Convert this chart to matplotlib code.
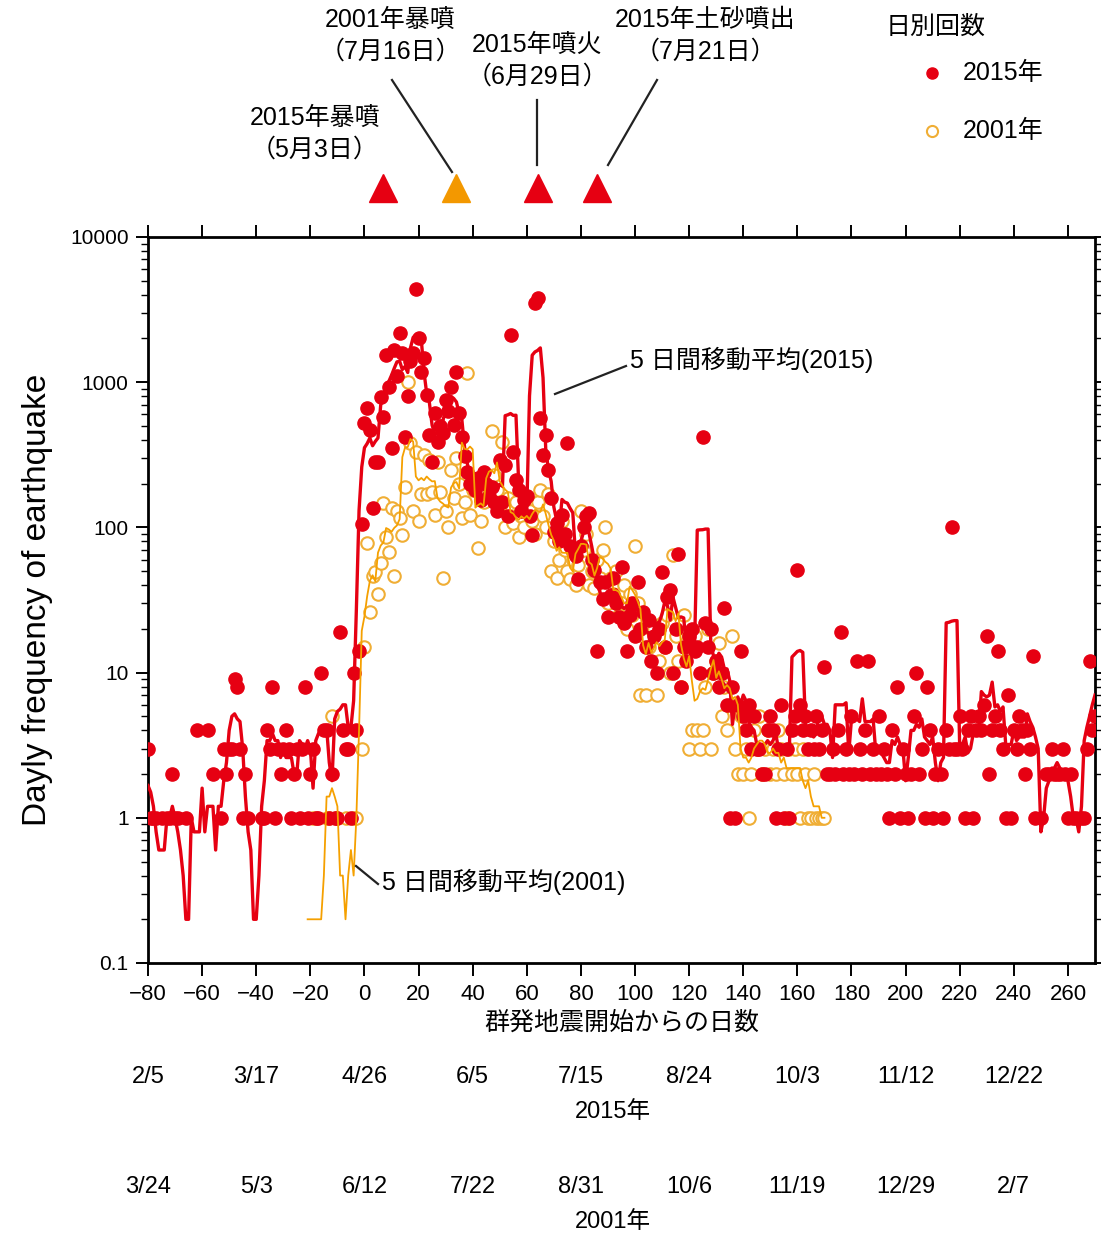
# 群発地震の日別回数と5日間移動平均(2015年と2001年の比較)

import matplotlib
matplotlib.use("Agg")
import matplotlib.pyplot as plt
import matplotlib.transforms as mtransforms
from matplotlib.lines import Line2D
from matplotlib.ticker import FixedLocator, LogLocator, NullFormatter
import numpy as np
import pandas as pd

plt.rcParams['font.family'] = ['Liberation Sans', 'Noto Sans CJK JP', 'DejaVu Sans']

W, H = 1101, 1238

# --- データ (群発地震開始からの日数ごとの回数) ---
days_2015 = np.arange(-80, 271)
count_2015 = [
    3, 1, 1, 1, 0, 1, 0, 1, 1, 2,            # -80..-71
    1, 1, 0, 0, 1, 0, 0, 0, 4, 0,            # -70..-61
    0, 0, 4, 0, 2, 0, 0, 1, 3, 2,            # -60..-51
    3, 3, 9, 8, 3, 1, 2, 1, 0, 0,            # -50..-41
    0, 0, 1, 1, 4, 3, 8, 1, 3, 2,            # -40..-31
    3, 4, 3, 1, 2, 3, 1, 3, 8, 1,            # -30..-21
    2, 3, 1, 1, 10, 4, 4, 1, 2, 1,           # -20..-11
    1, 19, 4, 3, 3, 1, 10, 4, 14, 105,       # -10..-1
    520, 660, 470, 135, 280, 280, 790, 580, 1540, 930,        # 0..9
    350, 1660, 1100, 2190, 1600, 420, 800, 1410, 1600, 4370,  # 10..19
    2000, 1180, 1470, 820, 430, 280, 610, 390, 500, 445,      # 20..29
    750, 630, 930, 510, 1180, 610, 420, 310, 240, 200,        # 30..39
    210, 180, 220, 155, 240, 200, 165, 190, 150, 130,         # 40..49
    290, 150, 270, 120, 2110, 330, 212, 180, 130, 155,        # 50..59
    165, 120, 89, 3500, 3800, 570, 315, 430, 250, 160,        # 60..69
    93, 107, 80, 122, 90, 380, 75, 68, 64, 44,                # 70..79
    75, 100, 120, 125, 60, 51, 14, 42, 32, 42,                # 80..89
    24, 34, 45, 30, 24, 53, 22, 14, 25, 30,                   # 90..99
    18, 42, 20, 26, 15, 23, 12, 18, 10, 20,                   # 100..109
    49, 15, 33, 37, 10, 20, 66, 8, 15, 12,                    # 110..119
    18, 20, 14, 15, 10, 420, 22, 15, 20, 10,                  # 120..129
    12, 8, 10, 28, 6, 1, 8, 1, 6, 14,                         # 130..139
    5, 4, 6, 3, 5, 3, 3, 2, 2, 4,                             # 140..149
    5, 4, 1, 3, 6, 1, 3, 1, 4, 5,                             # 150..159
    51, 6, 4, 5, 3, 4, 3, 5, 3, 4,                            # 160..169
    11, 2, 2, 3, 2, 4, 19, 2, 3, 2,                           # 170..179
    5, 2, 12, 3, 2, 4, 12, 2, 3, 2,                           # 180..189
    5, 2, 3, 2, 1, 4, 2, 8, 1, 3,                             # 190..199
    2, 1, 2, 5, 10, 2, 3, 1, 8, 4,                            # 200..209
    1, 2, 3, 2, 1, 4, 3, 100, 3, 3,                           # 210..219
    5, 3, 1, 4, 5, 1, 4, 5, 4, 6,                             # 220..229
    18, 2, 4, 5, 14, 4, 3, 1, 7, 1,                           # 230..239
    4, 3, 5, 4, 2, 4, 3, 13, 1, 0,                            # 240..249
    1, 0, 2, 2, 3, 2, 2, 2, 3, 2,                             # 250..259
    1, 2, 1, 1, 0, 1, 1, 3, 12, 4,                            # 260..269
    5,                                                        # 270
]

days_2001 = np.arange(-24, 171)
count_2001 = [
    0, 0, 0, 0, 0, 1, 0, 0, 0, 0,            # -24..-15
    1, 1, 5, 0, 1, 0, 0, 1, 0, 0,            # -14..-5
    1, 1, 0, 3,                              # -4..-1
    15, 78, 26, 46, 49, 35, 57, 148, 86, 68,                  # 0..9
    136, 46, 130, 116, 88, 190, 1000, 380, 130, 330,          # 10..19
    110, 170, 315, 170, 290, 175, 122, 280, 175, 45,          # 20..29
    130, 100, 250, 160, 300, 200, 116, 150, 1150, 122,        # 30..39
    180, 200, 72, 110, 150, 200, 170, 460, 230, 180,          # 40..49
    140, 390, 100, 160, 120, 107, 150, 86, 120, 100,          # 50..59
    140, 130, 110, 90, 150, 180, 120, 100, 170, 50,           # 60..69
    80, 45, 60, 110, 70, 50, 44, 60, 40, 55,                  # 70..79
    130, 70, 90, 40, 50, 38, 60, 45, 70, 100,                 # 80..89
    30, 45, 35, 50, 25, 30, 40, 20, 35, 25,                   # 90..99
    75, 30, 7, 18, 7, 15, 20, 20, 7, 12,                      # 100..109
    22, 15, 25, 10, 65, 18, 12, 8, 25, 15,                    # 110..119
    3, 4, 18, 4, 3, 4, 8, 20, 3, 10,                          # 120..129
    12, 16, 5, 8, 4, 6, 18, 3, 2, 5,                          # 130..139
    2, 3, 1, 2, 4, 3, 5, 2, 3, 4,                             # 140..149
    2, 3, 2, 4, 3, 2, 1, 3, 2, 3,                             # 150..159
    2, 1, 3, 2, 1, 1, 2, 1, 1, 1,                             # 160..169
    1,                                                        # 170
]

# 噴火イベント(日数)
event_days = [7, 34, 64, 86]
event_colors = ['#e60012', '#f39800', '#e60012', '#e60012']

date_ticks = [-80, -40, 0, 40, 80, 120, 160, 200, 240]
dates_2015 = ['2/5', '3/17', '4/26', '6/5', '7/15', '8/24', '10/3', '11/12', '12/22']
dates_2001 = ['3/24', '5/3', '6/12', '7/22', '8/31', '10/6', '11/19', '12/29', '2/7']

RED = '#e60012'
ORANGE_LINE = '#f5a000'
ORANGE_EDGE = '#f0ae35'


def fx(px):
    return px / W


def fy(py):
    return 1 - py / H


s15 = pd.Series(count_2015, index=days_2015, dtype=float)
s01 = pd.Series(count_2001, index=days_2001, dtype=float)
ma15 = s15.rolling(5, center=True, min_periods=1).mean().replace(0, np.nan)
ma01 = s01.rolling(5, center=True, min_periods=1).mean().replace(0, np.nan)

fig = plt.figure(figsize=(W / 100, H / 100), dpi=100)
ax = fig.add_axes([fx(148), fy(963), fx(1095) - fx(148), fy(237) - fy(963)])

p01 = s01[s01 > 0]
p15 = s15[s15 > 0]
ax.plot(p01.index, p01.values, 'o', ms=9, mfc='white', mec=ORANGE_EDGE, mew=1.5, zorder=2)
ax.plot(p15.index, p15.values, 'o', ms=9.5, color=RED, mec=RED, zorder=3)
ax.plot(ma15.index, ma15.values, color=RED, lw=2.4, zorder=4)
ax.plot(ma01.index, ma01.values, color=ORANGE_LINE, lw=1.3, zorder=5)

ax.set_yscale('log')
ax.set_xlim(-80, 270)
ax.set_ylim(0.1, 10000)
ax.yaxis.set_major_locator(FixedLocator([0.1, 1, 10, 100, 1000, 10000]))
ax.set_yticklabels(['0.1', '1', '10', '100', '1000', '10000'])
ax.yaxis.set_minor_locator(LogLocator(base=10, subs=np.arange(2, 10)))
ax.yaxis.set_minor_formatter(NullFormatter())
ax.set_xticks(np.arange(-80, 261, 20))
ax.tick_params(which='major', direction='out', length=9, width=1.4, top=True, right=True)
ax.tick_params(which='minor', direction='out', length=5, width=1.0, right=True)
ax.tick_params(axis='x', labelsize=16, pad=6)
ax.tick_params(axis='y', labelsize=15, pad=5)
for sp in ax.spines.values():
    sp.set_linewidth(2)

ax.set_ylabel('Dayly frequency of earthquake', fontsize=24, labelpad=12)
ax.set_xlabel('群発地震開始からの日数', fontsize=18, labelpad=4)

# 日付の行
trans = mtransforms.blended_transform_factory(ax.transData, fig.transFigure)
for d, t15, t01 in zip(date_ticks, dates_2015, dates_2001):
    ax.text(d, fy(1077), t15, transform=trans, ha='center', va='center', fontsize=17)
    ax.text(d, fy(1187), t01, transform=trans, ha='center', va='center', fontsize=17)
fig.text(fx(613), fy(1112), '2015年', ha='center', va='center', fontsize=17)
fig.text(fx(613), fy(1222), '2001年', ha='center', va='center', fontsize=17)

# 噴火の三角印
for d, c in zip(event_days, event_colors):
    ax.plot([d], [fy(188)], marker='^', ms=20, color=c, transform=trans, clip_on=False)

labels = [
    (315, 118, '2015年暴噴', '（5月3日）'),
    (390, 20, '2001年暴噴', '（7月16日）'),
    (537, 45, '2015年噴火', '（6月29日）'),
    (705, 20, '2015年土砂噴出', '（7月21日）'),
]
for x, y, l1, l2 in labels:
    fig.text(fx(x), fy(y), l1, ha='center', va='center', fontsize=18)
    fig.text(fx(x), fy(y + 32), l2, ha='center', va='center', fontsize=18)

leaders = [((392, 80), (452, 172)), ((537, 100), (537, 165)), ((657, 80), (608, 165)),
           ((626, 366), (555, 394)), ((356, 866), (378, 884))]
for (x0, y0), (x1, y1) in leaders:
    fig.add_artist(Line2D([fx(x0), fx(x1)], [fy(y0), fy(y1)], color='#222222', lw=1.6))

fig.text(fx(630), fy(360), '5 日間移動平均(2015)', ha='left', va='center', fontsize=18)
fig.text(fx(382), fy(882), '5 日間移動平均(2001)', ha='left', va='center', fontsize=18)

# 凡例
fig.text(fx(886), fy(27), '日別回数', ha='left', va='center', fontsize=18)
fig.add_artist(Line2D([fx(932)], [fy(73)], marker='o', ms=8, color=RED, ls='none'))
fig.add_artist(Line2D([fx(932)], [fy(131)], marker='o', ms=8, mfc='white', mec=ORANGE_EDGE,
                      mew=1.5, ls='none'))
fig.text(fx(963), fy(73), '2015年', ha='left', va='center', fontsize=18)
fig.text(fx(963), fy(131), '2001年', ha='left', va='center', fontsize=18)

fig.savefig('out.png', dpi=100)
